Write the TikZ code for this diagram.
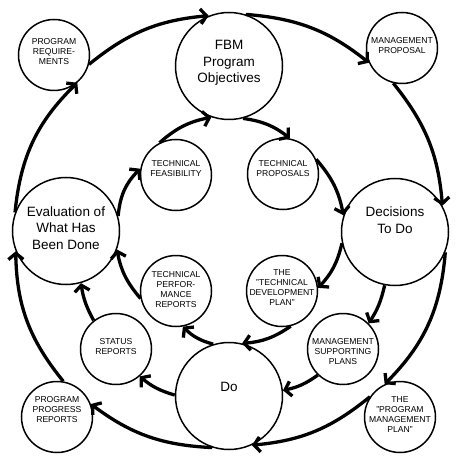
\documentclass[tikz,border=0pt]{standalone}
\usepackage{fontspec}
\setmainfont{Liberation Sans}
\usetikzlibrary{arrows.meta}
\tikzset{
    bigc/.style={circle, draw, line width=1.5pt, minimum size=107pt, inner sep=0pt},
    smallc/.style={circle, draw, line width=1.5pt, minimum size=71pt, inner sep=0pt},
    bigtxt/.style={align=center, inner sep=0pt, font=\fontsize{13.5}{16.5}\selectfont},
    smalltxt/.style={align=center, inner sep=0pt, font=\fontsize{8.6}{10}\selectfont},
    flow/.style={line width=3.3pt, -{Straight Barb[length=6pt,width=15pt]}}
}
\begin{document}
\begin{tikzpicture}[x=1pt, y=-1pt]  % program cycle
        \fill[white] (0,0) rectangle (461,462);
        \useasboundingbox (0,0) rectangle (461,462);
        % big circles
        \node[bigc] (fbm) at (229,66) {};
        \node[bigc] (dec) at (395,232) {};
        \node[bigc] (do) at (229,396) {};
        \node[bigc] (ev) at (66,231) {};
        \node[bigtxt] (fbmtxt) at (229,63) {FBM\\Program\\Objectives};
        \node[bigtxt] (dectxt) at (395,220) {Decisions\\To Do};
        \node[bigtxt] (dotxt) at (229,387) {Do};
        \node[bigtxt] (evtxt) at (66,228) {Evaluation of\\What Has\\Been Done};
        % small circles
        \node[smallc] (pr) at (54,55) {};
        \node[smallc] (mp) at (402,48) {};
        \node[smallc] (tf) at (176,175) {};
        \node[smallc] (tp) at (283,174) {};
        \node[smallc] (tpr) at (176,291) {};
        \node[smallc] (tdp) at (282,291) {};
        \node[smallc] (sr) at (116,349) {};
        \node[smallc] (msp) at (343,349) {};
        \node[smallc] (ppr) at (57,417) {};
        \node[smallc] (pmp) at (400,417) {};
        \node[smalltxt] (prtxt) at (54,52) {PROGRAM\\REQUIRE-\\MENTS};
        \node[smalltxt] (mptxt) at (402,46) {MANAGEMENT\\PROPOSAL};
        \node[smalltxt] (tftxt) at (176,169) {TECHNICAL\\FEASIBILITY};
        \node[smalltxt] (tptxt) at (283,169) {TECHNICAL\\PROPOSALS};
        \node[smalltxt] (tprtxt) at (176,290) {TECHNICAL\\PERFOR-\\MANCE\\REPORTS};
        \node[smalltxt] (tdptxt) at (282,288) {THE\\"TECHNICAL\\DEVELOPMENT\\PLAN"};
        \node[smalltxt] (srtxt) at (116,347) {STATUS\\REPORTS};
        \node[smalltxt] (msptxt) at (343,352) {MANAGEMENT\\SUPPORTING\\PLANS};
        \node[smalltxt] (pprtxt) at (57,410) {PROGRAM\\PROGRESS\\REPORTS};
        \node[smalltxt] (pmptxt) at (400,415) {THE\\"PROGRAM\\MANAGEMENT\\PLAN"};
        % outer ring
        \draw[flow] (ev.160) to[bend left=20] (pr.310);
        \draw[flow] (pr.345) to[bend left=17] (fbm.112);
        \draw[flow] (fbm.72) to[bend left=17] (mp.204);
        \draw[flow] (mp.256) to[bend left=17] (dec.29);
        \draw[flow] (dec.338) to[bend left=20] (pmp.115);
        \draw[flow] (pmp.146) to[bend left=17] (do.295);
        \draw[flow] (do.252) to[bend left=17] (ppr.21);
        \draw[flow] (ppr.80) to[bend left=19] (ev.202);
        % inner ring
        \draw[flow] (ev.16) to[bend left=20] (tf.170);
        \draw[flow] (tf.117) to[bend left=15] (fbm.251);
        \draw[flow] (fbm.285) to[bend left=15] (tp.79);
        \draw[flow] (tp.24) to[bend left=15] (dec.162);
        \draw[flow] (dec.192) to[bend left=15] (tdp.5);
        \draw[flow] (tdp.284) to[bend left=15] (do.76);
        \draw[flow] (do.107) to[bend left=15] (tpr.281);
        \draw[flow] (tpr.192) to[bend left=15] (ev.340);
        % middle
        \draw[flow] (dec.259) to[bend left=10] (msp.45);
        \draw[flow] (msp.226) to[bend left=12] (do.6);
        \draw[flow] (do.179) to[bend left=12] (sr.311);
        \draw[flow] (sr.128) to[bend left=10] (ev.286);
    \end{tikzpicture}
\end{document}
